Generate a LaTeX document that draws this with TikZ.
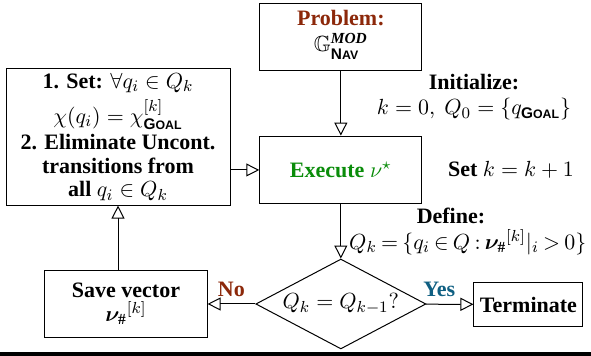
\documentclass[tikz,border=0pt]{standalone}
\usepackage{amsmath,amssymb}
\usepackage{bm}
\usepackage{fontspec}
\setmainfont{Liberation Serif}
\setsansfont{Liberation Sans}
\usepackage{graphicx}
\usetikzlibrary{shapes,arrows.meta,positioning,calc}
\usepackage{xcolor}
\definecolor{probbrown}{RGB}{140,40,10}
\definecolor{execgreen}{RGB}{10,140,10}
\definecolor{yesteal}{RGB}{15,95,130}
\newcommand{\smcapsf}[2]{\textsf{\bfseries #1\scalebox{0.8}{#2}}}

\begin{document}
\begin{tikzpicture}[
    every node/.style={font=\fontsize{11}{11.8}\selectfont},
    box/.style={rectangle, draw, line width=0.5pt, minimum width=2.85cm,
        minimum height=1.19cm, align=center, inner sep=2pt},
    decision/.style={diamond, draw, line width=0.5pt, minimum width=2.99cm,
        minimum height=1.58cm, inner sep=0pt, aspect=1.9},
    arr/.style={-{Triangle[open, length=6.5pt, width=6.5pt]}, line width=0.5pt}
]
    \useasboundingbox (0,0) rectangle (10.386,6.256);
    \fill (0,0) rectangle (10.386,0.07);

    % Problem and main loop
    \node[box] (prob) at (5.99,5.606) {\textcolor{probbrown}{\textbf{Problem:}}\\[1pt]
        $\mathbb{G}^{\textbf{\textit{MOD}}}_{\mathstrut\smcapsf{N}{AV}}$};
    \node[box] (exec) at (5.99,3.269) {\textcolor{execgreen}{\textbf{Execute} $\nu^\star$}};
    \node[decision] (dec) at (5.99,0.914) {$Q_k = Q_{k-1}?$};
    \node[box, minimum width=1.915cm, minimum height=0.756cm] (term) at (9.287,0.905) {\textbf{Terminate}};

    % Left branch
    \node[box, minimum width=3.936cm, minimum height=2.355cm] (setbox) at (2.074,3.848) {%
        \textbf{1. Set:} $\forall q_i \in Q_k$\\[2.5pt]
        $\chi(q_i) = \chi^{[k]}_{\smcapsf{G}{OAL}}$\\[1.5pt]
        \textbf{2. Eliminate Uncont.}\\
        \textbf{transitions from}\\
        \textbf{all} $q_i \in Q_k$};
    \node[box] (save) at (2.214,0.914) {\textbf{Save vector}\\ ${\bm{\nu_{\#}}}^{[k]}$};

    % Side notes
    \node[align=center] (init) at (8.33,4.55) {\textbf{Initialize:}\\[1pt]
        $k = 0,\ Q_0 = \{q_{\smcapsf{G}{OAL}}\}$};
    \node (setk) at (8.98,3.269) {\textbf{Set} $k = k + 1$};
    \node (deflbl) at (7.925,2.46) {\textbf{Define:}};
    \node[anchor=west, inner sep=0pt] (defq) at (6.13,2.0)
        {\thickmuskip=3.5mu\medmuskip=3mu$Q_k = \{q_i \in Q : {\bm{\nu_{\#}}}^{[k]}|_i > 0\}$};

    \draw[arr] (prob) -- (exec);
    \draw[arr] (setbox.east |- exec.west) -- (exec.west);
    \draw[arr] (exec) -- (dec);
    \draw[arr] (dec) -- node[above, text=probbrown] {\textbf{No}} (save);
    \draw[arr] (dec) -- node[above, pos=0.28, text=yesteal] {\textbf{Yes}} (term);
    \draw[arr] (save.north -| setbox.south) -- (setbox.south);
\end{tikzpicture}
\end{document}
